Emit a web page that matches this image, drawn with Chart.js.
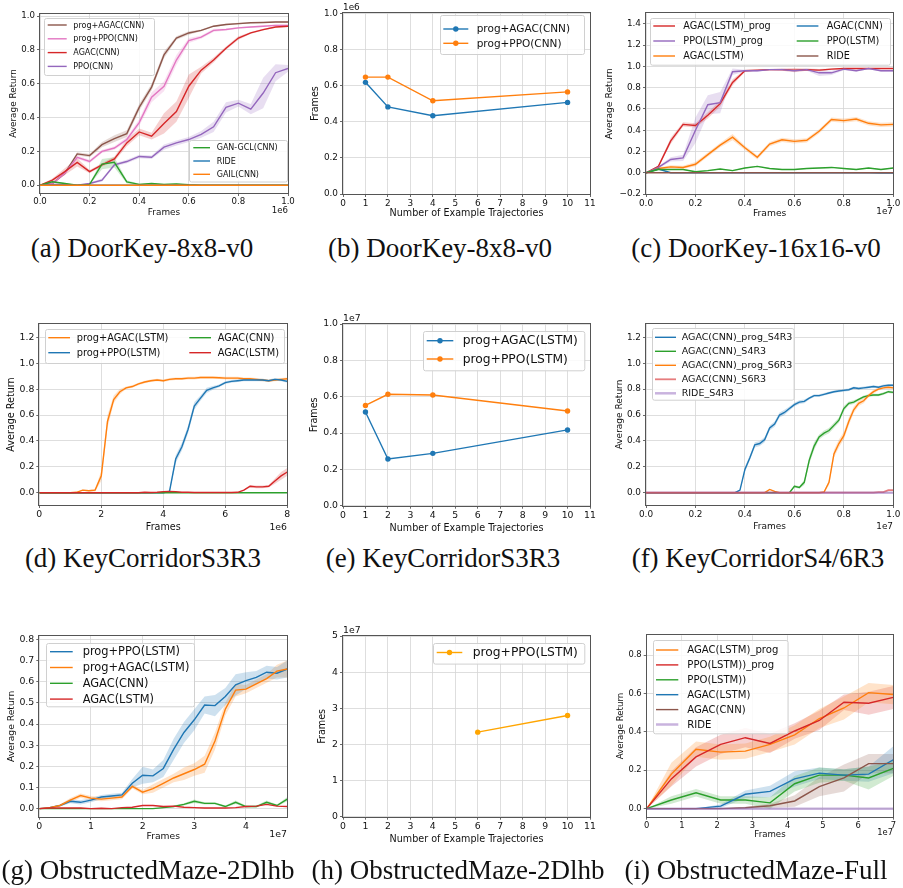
<!DOCTYPE html>
<html>
<head>
<meta charset="utf-8">
<script src="https://cdn.jsdelivr.net/npm/chart.js@4.4.0/dist/chart.umd.min.js"></script>
<style>
  body { margin: 0; background: #fff; width: 903px; height: 888px; position: relative; overflow: hidden; }
  canvas { position: absolute; }
  .cap { position: absolute; font-family: 'Liberation Serif', 'DejaVu Serif', serif; font-size: 27px; color: #111;
         white-space: nowrap; transform: translate(-50%, -50%); line-height: 1; }
</style>
</head>
<body>
<script>
// ---------- data ----------
// (a) DoorKey-8x8-v0, frames x1e6
const xA = [0, 0.05, 0.1, 0.15, 0.2, 0.25, 0.3, 0.35, 0.4, 0.45, 0.5, 0.55, 0.6, 0.65, 0.7, 0.75, 0.8, 0.85, 0.9, 0.95, 1.0];
const aProgAgac   = [0, 0.01, 0.07, 0.185, 0.175, 0.24, 0.275, 0.305, 0.46, 0.58, 0.77, 0.87, 0.9, 0.915, 0.94, 0.95, 0.955, 0.96, 0.962, 0.965, 0.965];
const aProgAgacSd = [0, 0.005, 0.01, 0.01, 0.01, 0.015, 0.02, 0.02, 0.02, 0.02, 0.02, 0.01, 0.01, 0.005, 0.005, 0.005, 0.005, 0.003, 0.003, 0.003, 0.003];
const aProgPpo    = [0, 0.01, 0.07, 0.165, 0.14, 0.2, 0.22, 0.27, 0.37, 0.52, 0.585, 0.74, 0.855, 0.875, 0.915, 0.92, 0.93, 0.935, 0.94, 0.945, 0.945];
const aProgPpoSd  = [0, 0.005, 0.01, 0.01, 0.01, 0.01, 0.01, 0.015, 0.02, 0.03, 0.03, 0.03, 0.015, 0.01, 0.01, 0.005, 0.005, 0.005, 0.005, 0.005, 0.005];
const aAgac       = [0, 0.03, 0.08, 0.135, 0.08, 0.12, 0.155, 0.25, 0.315, 0.29, 0.365, 0.435, 0.585, 0.68, 0.74, 0.81, 0.87, 0.9, 0.92, 0.935, 0.94];
const aAgacSd     = [0, 0.01, 0.02, 0.025, 0.01, 0.01, 0.015, 0.02, 0.02, 0.02, 0.06, 0.06, 0.07, 0.02, 0.015, 0.01, 0.01, 0.005, 0.005, 0.005, 0.005];
const aPpo        = [0, 0.005, 0.005, 0, 0.01, 0.03, 0.12, 0.14, 0.17, 0.165, 0.225, 0.25, 0.27, 0.3, 0.345, 0.46, 0.485, 0.45, 0.545, 0.665, 0.69];
const aPpoSd      = [0, 0.003, 0.003, 0, 0.005, 0.01, 0.01, 0.01, 0.01, 0.01, 0.015, 0.015, 0.015, 0.02, 0.03, 0.03, 0.02, 0.03, 0.09, 0.05, 0.02];
const aGan        = [0, 0.02, 0.01, 0, 0.005, 0.125, 0.135, 0.02, 0.005, 0.01, 0.005, 0.008, 0.003, 0, 0, 0, 0, 0, 0, 0, 0];
const aGanSd      = [0, 0.005, 0.005, 0, 0.003, 0.03, 0.03, 0.01, 0.003, 0.003, 0.003, 0.003, 0, 0, 0, 0, 0, 0, 0, 0, 0];
const aRide       = [0, 0, 0, 0, 0, 0, 0, 0, 0, 0, 0, 0, 0, 0, 0, 0, 0, 0, 0, 0, 0];
const aGail       = [0, 0, 0, 0, 0, 0, 0, 0, 0, 0, 0, 0, 0, 0, 0, 0, 0, 0, 0, 0, 0];
const yTicksA = [0, 0.2, 0.4, 0.6, 0.8, 1.0];
const xTicksA = [0, 0.2, 0.4, 0.6, 0.8, 1.0];

// (b) DoorKey-8x8-v0, frames x1e6 vs number of example trajectories
const xB = [1, 2, 4, 10];
const bProgAgac = [0.618, 0.482, 0.433, 0.507];
const bProgPpo  = [0.647, 0.647, 0.516, 0.565];
const yTicksB = [0, 0.2, 0.4, 0.6, 0.8, 1.0];
const xTicksB = [0, 1, 2, 3, 4, 5, 6, 7, 8, 9, 10, 11];

// (c) DoorKey-16x16-v0, frames x1e7
const xC = [0, 0.05, 0.1, 0.15, 0.2, 0.25, 0.3, 0.35, 0.4, 0.45, 0.5, 0.55, 0.6, 0.65, 0.7, 0.75, 0.8, 0.85, 0.9, 0.95, 1.0];
const cAgacLstmProg   = [0, 0.06, 0.3, 0.455, 0.445, 0.54, 0.65, 0.85, 0.96, 0.965, 0.97, 0.97, 0.965, 0.97, 0.965, 0.975, 0.98, 0.98, 0.98, 0.98, 0.98];
const cAgacLstmProgSd = [0, 0.01, 0.03, 0.02, 0.02, 0.03, 0.03, 0.03, 0.01, 0.005, 0.005, 0.01, 0.02, 0.01, 0.01, 0.005, 0.005, 0.005, 0.005, 0.005, 0.005];
const cPpoLstmProg    = [0, 0.05, 0.125, 0.14, 0.4, 0.64, 0.66, 0.95, 0.96, 0.96, 0.97, 0.97, 0.96, 0.97, 0.94, 0.94, 0.975, 0.96, 0.98, 0.96, 0.96];
const cPpoLstmProgSd  = [0, 0.01, 0.02, 0.03, 0.12, 0.09, 0.1, 0.03, 0.01, 0.01, 0.005, 0.01, 0.01, 0.01, 0.03, 0.02, 0.01, 0.01, 0.005, 0.01, 0.01];
const cAgacLstm       = [0, 0.04, 0.055, 0.05, 0.08, 0.17, 0.26, 0.335, 0.235, 0.145, 0.27, 0.31, 0.295, 0.305, 0.39, 0.5, 0.49, 0.505, 0.465, 0.45, 0.455];
const cAgacLstmSd     = [0, 0.01, 0.015, 0.015, 0.02, 0.02, 0.02, 0.03, 0.02, 0.02, 0.02, 0.02, 0.02, 0.02, 0.02, 0.02, 0.02, 0.02, 0.02, 0.02, 0.02];
const cAgacCnn        = [0, 0.035, 0, 0, 0, 0, 0, 0, 0, 0, 0, 0, 0, 0, 0, 0, 0, 0, 0, -0.003, -0.003];
const cPpoLstm        = [0, 0.03, 0.03, 0.03, 0.01, 0.02, 0.035, 0.02, 0.045, 0.06, 0.04, 0.03, 0.03, 0.04, 0.045, 0.05, 0.04, 0.03, 0.045, 0.03, 0.045];
const cPpoLstmSd      = [0, 0.005, 0.005, 0.005, 0.005, 0.005, 0.005, 0.005, 0.005, 0.005, 0.005, 0.005, 0.005, 0.005, 0.005, 0.005, 0.005, 0.005, 0.005, 0.005, 0.005];
const cRide           = [0, 0, 0, 0, 0, 0, 0, 0, 0, 0, 0, 0, 0, 0, 0, 0, 0, 0, 0, 0, 0];
const yTicksC = [-0.2, 0, 0.2, 0.4, 0.6, 0.8, 1.0, 1.2, 1.4];
const xTicksC = [0, 0.2, 0.4, 0.6, 0.8, 1.0];

// (d) KeyCorridorS3R3, frames x1e6
const xD = [0, 0.2, 0.4, 0.6, 0.8, 1.0, 1.2, 1.4, 1.6, 1.8, 2.0, 2.2, 2.4, 2.6, 2.8, 3.0, 3.2, 3.4, 3.6, 3.8, 4.0,
            4.2, 4.4, 4.6, 4.8, 5.0, 5.2, 5.4, 5.6, 5.8, 6.0, 6.2, 6.4, 6.6, 6.8, 7.0, 7.2, 7.4, 7.6, 7.8, 8.0];
const dProgAgac   = [0, 0, 0, 0, 0, 0, 0.003, 0.02, 0.015, 0.02, 0.13, 0.55, 0.72, 0.78, 0.81, 0.82, 0.84, 0.855, 0.865, 0.87, 0.865,
                     0.875, 0.88, 0.88, 0.885, 0.885, 0.89, 0.89, 0.89, 0.888, 0.885, 0.885, 0.885, 0.88, 0.88, 0.875, 0.87, 0.865, 0.87, 0.875, 0.88];
const dProgAgacSd = [0, 0, 0, 0, 0, 0, 0.003, 0.005, 0.005, 0.01, 0.04, 0.05, 0.03, 0.02, 0.01, 0.01, 0.01, 0.01, 0.01, 0.01, 0.01,
                     0.01, 0.01, 0.01, 0.01, 0.01, 0.01, 0.01, 0.01, 0.01, 0.01, 0.01, 0.01, 0.01, 0.01, 0.01, 0.01, 0.01, 0.01, 0.01, 0.01];
const dProgPpo    = [0, 0, 0, 0, 0, 0, 0, 0, 0, 0, 0, 0, 0, 0, 0, 0, 0, 0, 0, 0, 0,
                     0.01, 0.26, 0.355, 0.49, 0.67, 0.73, 0.79, 0.81, 0.825, 0.85, 0.86, 0.865, 0.87, 0.87, 0.87, 0.87, 0.865, 0.875, 0.87, 0.86];
const dProgPpoSd  = [0, 0, 0, 0, 0, 0, 0, 0, 0, 0, 0, 0, 0, 0, 0, 0, 0, 0, 0, 0, 0,
                     0.01, 0.03, 0.03, 0.03, 0.03, 0.02, 0.02, 0.015, 0.01, 0.01, 0.01, 0.01, 0.01, 0.01, 0.01, 0.01, 0.01, 0.01, 0.01, 0.01];
const dAgacCnn    = [0, 0, 0, 0, 0, 0, 0, 0, 0, 0, 0, 0, 0, 0, 0, 0, 0, 0, 0, 0, 0,
                     0, 0, 0, 0, 0, 0, 0, 0, 0, 0, 0, 0, 0, 0, 0, 0, 0, 0, 0, 0];
const dAgacLstm   = [0, 0, 0, 0, 0, 0, 0, 0, 0, 0, 0, 0, 0, 0, 0, 0, 0, 0.003, 0.002, 0.003, 0.008,
                     0.01, 0.008, 0.003, 0.003, 0.002, 0.002, 0.002, 0.002, 0.002, 0.002, 0.002, 0.003, 0.02, 0.05, 0.045, 0.045, 0.05, 0.09, 0.13, 0.16];
const dAgacLstmSd = [0, 0, 0, 0, 0, 0, 0, 0, 0, 0, 0, 0, 0, 0, 0, 0, 0, 0, 0, 0, 0,
                     0, 0, 0, 0, 0, 0, 0, 0, 0, 0, 0, 0.003, 0.005, 0.01, 0.01, 0.01, 0.01, 0.02, 0.03, 0.03];
const yTicksD = [0, 0.2, 0.4, 0.6, 0.8, 1.0, 1.2];
const xTicksD = [0, 2, 4, 6, 8];

// (e) KeyCorridorS3R3, frames x1e7 vs number of example trajectories
const xE = [1, 2, 4, 10];
const eProgAgac = [0.516, 0.257, 0.288, 0.417];
const eProgPpo  = [0.552, 0.613, 0.609, 0.521];
const yTicksE = [0, 0.2, 0.4, 0.6, 0.8, 1.0];
const xTicksE = [0, 1, 2, 3, 4, 5, 6, 7, 8, 9, 10, 11];

// (f) KeyCorridorS4/6R3, frames x1e7
const xF = [0, 0.02, 0.04, 0.06, 0.08, 0.1, 0.12, 0.14, 0.16, 0.18, 0.2, 0.22, 0.24, 0.26, 0.28, 0.3, 0.32, 0.34, 0.36, 0.38,
            0.4, 0.42, 0.44, 0.46, 0.48, 0.5, 0.52, 0.54, 0.56, 0.58, 0.6, 0.62, 0.64, 0.66, 0.68, 0.7, 0.72, 0.74, 0.76, 0.78,
            0.8, 0.82, 0.84, 0.86, 0.88, 0.9, 0.92, 0.94, 0.96, 0.98, 1.0];
const fS4Prog   = [0, 0, 0, 0, 0, 0, 0, 0, 0, 0, 0, 0, 0, 0, 0, 0, 0, 0, 0, 0.02,
                   0.18, 0.27, 0.37, 0.38, 0.41, 0.5, 0.53, 0.6, 0.62, 0.65, 0.68, 0.7, 0.705, 0.73, 0.75, 0.75, 0.76, 0.77, 0.78, 0.785,
                   0.79, 0.795, 0.81, 0.805, 0.81, 0.815, 0.82, 0.815, 0.825, 0.83, 0.83];
const fS4ProgSd = [0, 0, 0, 0, 0, 0, 0, 0, 0, 0, 0, 0, 0, 0, 0, 0, 0, 0, 0, 0.005,
                   0.02, 0.02, 0.02, 0.02, 0.02, 0.02, 0.02, 0.02, 0.02, 0.015, 0.015, 0.015, 0.015, 0.01, 0.01, 0.01, 0.01, 0.01, 0.01, 0.01,
                   0.01, 0.01, 0.01, 0.01, 0.01, 0.01, 0.01, 0.01, 0.01, 0.01, 0.01];
const fS4       = [0, 0, 0, 0, 0, 0, 0, 0, 0, 0, 0, 0, 0, 0, 0, 0, 0, 0, 0, 0,
                   0, 0, 0, 0, 0, 0, 0, 0, 0, 0, 0.05, 0.04, 0.08, 0.25, 0.36, 0.43, 0.46, 0.48, 0.52, 0.56,
                   0.65, 0.69, 0.7, 0.72, 0.74, 0.75, 0.755, 0.755, 0.765, 0.78, 0.775];
const fS4Sd     = [0, 0, 0, 0, 0, 0, 0, 0, 0, 0, 0, 0, 0, 0, 0, 0, 0, 0, 0, 0,
                   0, 0, 0, 0, 0, 0, 0, 0, 0, 0, 0.01, 0.01, 0.02, 0.03, 0.03, 0.02, 0.02, 0.02, 0.02, 0.02,
                   0.02, 0.015, 0.015, 0.01, 0.01, 0.01, 0.01, 0.01, 0.01, 0.01, 0.01];
const fS6Prog   = [0, 0, 0, 0, 0, 0, 0, 0, 0, 0, 0, 0, 0, 0, 0, 0, 0, 0, 0, 0,
                   0, 0, 0, 0, 0, 0.025, 0.01, 0, 0, 0, 0, 0, 0, 0, 0, 0, 0.005, 0.08, 0.3, 0.38,
                   0.44, 0.55, 0.64, 0.69, 0.71, 0.75, 0.78, 0.8, 0.81, 0.815, 0.81];
const fS6ProgSd = [0, 0, 0, 0, 0, 0, 0, 0, 0, 0, 0, 0, 0, 0, 0, 0, 0, 0, 0, 0,
                   0, 0, 0, 0, 0, 0.005, 0.005, 0, 0, 0, 0, 0, 0, 0, 0, 0, 0.005, 0.02, 0.03, 0.03,
                   0.03, 0.03, 0.025, 0.02, 0.02, 0.015, 0.015, 0.01, 0.01, 0.01, 0.01];
const fS6       = [0, 0, 0, 0, 0, 0, 0, 0, 0, 0, 0, 0, 0, 0, 0, 0, 0, 0, 0, 0,
                   0, 0, 0, 0, 0, 0, 0, 0, 0, 0, 0, 0, 0, 0, 0, 0, 0, 0, 0, 0,
                   0, 0, 0, 0, 0, 0, 0, 0.005, 0.005, 0.02, 0.02];
const fRide     = [0, 0, 0, 0, 0, 0, 0, 0, 0, 0, 0, 0, 0, 0, 0, 0, 0, 0, 0, 0,
                   0, 0, 0, 0, 0, 0, 0, 0, 0, 0, 0, 0, 0, 0, 0, 0, 0, 0, 0, 0,
                   0, 0, 0, 0, 0, 0, 0, 0, 0, 0, 0];
const yTicksF = [0, 0.2, 0.4, 0.6, 0.8, 1.0, 1.2];
const xTicksF = [0, 0.2, 0.4, 0.6, 0.8, 1.0];

// (g) ObstructedMaze-2Dlhb, frames x1e7
const xG = [0, 0.2, 0.4, 0.6, 0.8, 1.0, 1.2, 1.4, 1.6, 1.8, 2.0, 2.2, 2.4, 2.6, 2.8, 3.0, 3.2, 3.4, 3.6, 3.8, 4.0, 4.2, 4.4, 4.6, 4.8];
const gProgPpo    = [0, 0.005, 0.015, 0.035, 0.03, 0.04, 0.055, 0.06, 0.065, 0.12, 0.158, 0.155, 0.19, 0.28, 0.36, 0.42, 0.49, 0.487, 0.53, 0.585, 0.605, 0.62, 0.645, 0.64, 0.66];
const gProgPpoSd  = [0, 0.003, 0.005, 0.01, 0.01, 0.01, 0.01, 0.01, 0.01, 0.02, 0.04, 0.03, 0.04, 0.05, 0.05, 0.05, 0.04, 0.05, 0.04, 0.05, 0.04, 0.03, 0.03, 0.03, 0.04];
const gProgAgac   = [0, 0.005, 0.015, 0.04, 0.062, 0.05, 0.045, 0.05, 0.055, 0.105, 0.078, 0.095, 0.12, 0.145, 0.165, 0.185, 0.21, 0.32, 0.47, 0.56, 0.565, 0.59, 0.615, 0.65, 0.66];
const gProgAgacSd = [0, 0.003, 0.005, 0.01, 0.01, 0.01, 0.01, 0.01, 0.01, 0.01, 0.01, 0.02, 0.02, 0.02, 0.03, 0.03, 0.04, 0.04, 0.03, 0.03, 0.02, 0.02, 0.02, 0.03, 0.04];
const gAgacCnn    = [0, 0, 0, 0, 0, 0, 0, 0, 0, 0, 0, 0, 0.005, 0.01, 0.02, 0.035, 0.025, 0.025, 0.01, 0.03, 0.01, 0.01, 0.03, 0.015, 0.045];
const gAgacCnnSd  = [0, 0, 0, 0, 0, 0, 0, 0, 0, 0, 0, 0, 0.003, 0.005, 0.005, 0.008, 0.005, 0.005, 0.005, 0.008, 0.005, 0.005, 0.008, 0.005, 0.01];
const gAgacLstm   = [0, 0.003, 0.003, 0.003, 0.003, 0, 0.002, 0, 0.005, 0.007, 0.015, 0.015, 0.01, 0.012, 0.007, 0.005, 0.003, 0.003, 0.003, 0.005, 0.01, 0.012, 0.02, 0.012, 0.01];
const yTicksG = [0, 0.1, 0.2, 0.3, 0.4, 0.5, 0.6, 0.7, 0.8];
const xTicksG = [0, 1, 2, 3, 4];

// (h) ObstructedMaze-2Dlhb, frames x1e7 vs number of example trajectories
const xH = [6, 10];
const hProgPpo = [2.34, 2.80];
const yTicksH = [0, 1, 2, 3, 4, 5];
const xTicksH = [0, 1, 2, 3, 4, 5, 6, 7, 8, 9, 10, 11];

// (i) ObstructedMaze-Full, frames x1e7
const xI = [0, 0.7, 1.4, 2.1, 2.8, 3.5, 4.2, 4.9, 5.6, 6.3, 7.0];
const iAgacLstmProg   = [0, 0.18, 0.31, 0.295, 0.3, 0.335, 0.385, 0.47, 0.525, 0.605, 0.595];
const iAgacLstmProgSd = [0, 0.06, 0.04, 0.04, 0.04, 0.04, 0.05, 0.05, 0.06, 0.05, 0.05];
const iPpoLstmProg    = [0, 0.155, 0.27, 0.335, 0.37, 0.34, 0.405, 0.46, 0.555, 0.55, 0.58];
const iPpoLstmProgSd  = [0, 0.04, 0.05, 0.05, 0.05, 0.05, 0.04, 0.05, 0.04, 0.06, 0.06];
const iPpoLstm        = [0, 0.045, 0.083, 0.045, 0.045, 0.03, 0.13, 0.175, 0.175, 0.16, 0.21];
const iPpoLstmSd      = [0, 0.02, 0.02, 0.02, 0.02, 0.03, 0.04, 0.04, 0.03, 0.06, 0.04];
const iAgacLstm       = [0, 0, 0, 0.013, 0.075, 0.09, 0.155, 0.185, 0.175, 0.18, 0.255];
const iAgacLstmSd     = [0, 0, 0, 0.01, 0.02, 0.03, 0.04, 0.03, 0.03, 0.04, 0.07];
const iAgacCnn        = [0, 0, 0, 0, 0.005, 0.015, 0.04, 0.115, 0.16, 0.235, 0.235];
const iAgacCnnSd      = [0, 0, 0, 0, 0.005, 0.01, 0.03, 0.05, 0.07, 0.05, 0.05];
const iRide           = [0, 0, 0, 0, 0, 0, 0, 0, 0, 0, 0];
const yTicksI = [0, 0.2, 0.4, 0.6, 0.8];
const xTicksI = [0, 1, 2, 3, 4, 5, 6, 7];

// ---------- style ----------
const C = { blue: '#1f77b4', orange: '#ff7f0e', green: '#2ca02c', red: '#d62728',
            purple: '#9467bd', brown: '#8c564b', pink: '#e377c2', gold: '#ffa500' };
const FONT = 'DejaVu Sans';
const INK = '#111', GRID = '#d6d6d6', SPINE = '#555';

function rgba(hex, a) {
  const n = parseInt(hex.slice(1), 16);
  return `rgba(${n >> 16},${(n >> 8) & 255},${n & 255},${a})`;
}

function S(label, x, y, color, sd, extra) {
  return Object.assign({ label, x, y, color, sd }, extra || {});
}

function buildDatasets(list) {
  const ds = [];
  const n = list.length;
  list.forEach((s, k) => {
    if (s.sd) {
      ds.push({ data: s.x.map((v, i) => ({ x: v, y: s.y[i] - s.sd[i] })), borderWidth: 0, pointRadius: 0, fill: false, order: 100 + k });
      ds.push({ data: s.x.map((v, i) => ({ x: v, y: s.y[i] + s.sd[i] })), borderWidth: 0, pointRadius: 0, fill: '-1',
                backgroundColor: rgba(s.color, 0.22), order: 100 + k });
    }
    ds.push({
      label: s.label,
      data: s.x.map((v, i) => ({ x: v, y: s.y[i] })),
      borderColor: s.alpha ? rgba(s.color, s.alpha) : s.color,
      borderWidth: s.width || 1.4,
      pointRadius: s.marker ? 2.7 : 0,
      pointBackgroundColor: s.color,
      pointBorderWidth: 0,
      fill: false,
      tension: 0,
      order: n - k
    });
  });
  return ds;
}

function drawLegend(ctx, lg, series, bx, by) {
  const x = lg.x - bx, y = lg.y - by;
  ctx.fillStyle = 'rgba(255,255,255,0.85)';
  ctx.strokeStyle = '#d0d0d0';
  ctx.lineWidth = 1;
  ctx.beginPath();
  ctx.roundRect(Math.round(x) + 0.5, Math.round(y) + 0.5, lg.w, lg.h, 2);
  ctx.fill();
  ctx.stroke();
  const rows = Math.ceil(lg.items.length / lg.cols.length);
  ctx.font = `${lg.font}px ${FONT}`;
  ctx.textBaseline = 'middle';
  ctx.textAlign = 'left';
  lg.items.forEach((lab, k) => {
    const s = series.find(q => q.label === lab);
    const col = Math.floor(k / rows), row = k % rows;
    const cy = y + lg.row0 + row * lg.step;
    const hx = x + lg.cols[col];
    ctx.strokeStyle = s.alpha ? rgba(s.color, s.alpha) : s.color;
    ctx.lineWidth = s.width || 1.4;
    ctx.beginPath();
    ctx.moveTo(hx, cy);
    ctx.lineTo(hx + lg.hlen, cy);
    ctx.stroke();
    if (s.marker) {
      ctx.fillStyle = s.color;
      ctx.beginPath();
      ctx.arc(hx + lg.hlen / 2, cy, 2.7, 0, 2 * Math.PI);
      ctx.fill();
    }
    ctx.fillStyle = INK;
    ctx.fillText(lab, hx + lg.hlen + lg.tpad, cy + 0.5);
  });
}

function mplPlugin(p) {
  const [bx, by] = p.box;
  return {
    id: 'mpl' + p.id,
    afterDatasetsDraw(chart) {
      const ctx = chart.ctx, a = chart.chartArea;
      ctx.save();
      (p.legends || []).forEach(lg => drawLegend(ctx, lg, p.series, bx, by));
      ctx.strokeStyle = SPINE;
      ctx.lineWidth = 1;
      const l = Math.round(a.left) - 0.5, t = Math.round(a.top) - 0.5;
      ctx.strokeRect(l, t, Math.round(a.right) - Math.round(a.left) + 1, Math.round(a.bottom) - Math.round(a.top) + 1);
      if (p.off) {
        ctx.font = `${p.tf}px ${FONT}`;
        ctx.fillStyle = INK;
        ctx.textBaseline = 'middle';
        ctx.textAlign = p.off.align;
        ctx.fillText(p.off.text, p.off.x - bx, p.off.y - by);
      }
      ctx.restore();
    }
  };
}

const fmt = d => v => v.toFixed(d).replace('-', '\u2212');

function makePanel(p) {
  const [bx, by, bw, bh] = p.box;
  const [pl, pt, pr, pb] = p.plot;
  const cv = document.createElement('canvas');
  cv.width = bw; cv.height = bh;
  cv.style.left = bx + 'px'; cv.style.top = by + 'px';
  document.body.appendChild(cv);
  const lh = p.af * 1.2;
  new Chart(cv, {
    type: 'line',
    data: { datasets: buildDatasets(p.series) },
    options: {
      responsive: false, animation: false, devicePixelRatio: 1,
      layout: { padding: { left: 0, top: pt - by, right: bx + bw - pr, bottom: 0 } },
      plugins: { legend: { display: false }, tooltip: { enabled: false } },
      scales: {
        x: {
          type: 'linear', min: p.xr[0], max: p.xr[1],
          afterBuildTicks: s => { s.ticks = p.xt.map(v => ({ value: v })); },
          afterFit: s => { s.height = by + bh - pb; s.paddingLeft = 0; s.paddingRight = 0; },
          ticks: { callback: fmt(p.xd), font: { family: FONT, size: p.tf }, color: INK, padding: 1, maxRotation: 0, autoSkip: false },
          grid: { color: GRID, tickColor: '#444', tickLength: 3, lineWidth: 0.8 },
          border: { display: false },
          title: { display: true, text: p.xtitle, font: { family: FONT, size: p.af }, color: INK,
                   padding: { top: 0, bottom: by + bh - p.xty - lh / 2 } }
        },
        y: {
          type: 'linear', min: p.yr[0], max: p.yr[1],
          afterBuildTicks: s => { s.ticks = p.yt.map(v => ({ value: v })); },
          afterFit: s => { s.width = pl - bx; s.paddingTop = 0; s.paddingBottom = 0; },
          ticks: { callback: fmt(p.yd), font: { family: FONT, size: p.tf }, color: INK, padding: 2, autoSkip: false },
          grid: { color: GRID, tickColor: '#444', tickLength: 3, lineWidth: 0.8 },
          border: { display: false },
          title: { display: true, text: p.ytitle, font: { family: FONT, size: p.af }, color: INK,
                   padding: { top: p.ytx - bx - lh / 2, bottom: 0 } }
        }
      }
    },
    plugins: [mplPlugin(p)]
  });
}

// ---------- panels ----------
const panels = [
  { id: 'a', box: [0, 0, 300, 232], plot: [40, 14, 288, 193], xr: [0, 1], yr: [-0.046, 1.012],
    xt: xTicksA, yt: yTicksA, xd: 1, yd: 1, tf: 8.6, af: 8.9,
    xtitle: 'Frames', ytitle: 'Average Return', xty: 213, ytx: 14,
    off: { text: '1e6', x: 288, y: 211, align: 'right' },
    series: [
      S('prog+AGAC(CNN)', xA, aProgAgac, C.brown, aProgAgacSd),
      S('prog+PPO(CNN)', xA, aProgPpo, C.pink, aProgPpoSd),
      S('AGAC(CNN)', xA, aAgac, C.red, aAgacSd),
      S('PPO(CNN)', xA, aPpo, C.purple, aPpoSd),
      S('GAN-GCL(CNN)', xA, aGan, C.green, aGanSd),
      S('RIDE', xA, aRide, C.blue),
      S('GAIL(CNN)', xA, aGail, C.orange)
    ],
    legends: [
      { x: 44.3, y: 18.3, w: 110, h: 57, font: 8, row0: 6.7, step: 13.8, cols: [3.4], hlen: 19, tpad: 6.6,
        items: ['prog+AGAC(CNN)', 'prog+PPO(CNN)', 'AGAC(CNN)', 'PPO(CNN)'] },
      { x: 188.5, y: 140, w: 98, h: 41.5, font: 8, row0: 7.7, step: 13.3, cols: [4.8], hlen: 16.7, tpad: 6.7,
        items: ['GAN-GCL(CNN)', 'RIDE', 'GAIL(CNN)'] }
    ] },
  { id: 'b', box: [300, 0, 300, 232], plot: [343, 13.3, 590, 194], xr: [0, 11], yr: [0, 1],
    xt: xTicksB, yt: yTicksB, xd: 0, yd: 1, tf: 8.9, af: 9.6,
    xtitle: 'Number of Example Trajectories', ytitle: 'Frames', xty: 213.3, ytx: 315,
    off: { text: '1e6', x: 343, y: 8, align: 'left' },
    series: [
      S('prog+AGAC(CNN)', xB, bProgAgac, C.blue, null, { marker: true }),
      S('prog+PPO(CNN)', xB, bProgPpo, C.orange, null, { marker: true })
    ],
    legends: [
      { x: 440, y: 15, w: 144, h: 39, font: 10.5, row0: 14, step: 14.3, cols: [3.3], hlen: 25, tpad: 8.4,
        items: ['prog+AGAC(CNN)', 'prog+PPO(CNN)'] }
    ] },
  { id: 'c', box: [600, 0, 303, 232], plot: [646, 13.3, 893.3, 194], xr: [0, 1], yr: [-0.2, 1.5],
    xt: xTicksC, yt: yTicksC, xd: 1, yd: 1, tf: 8.9, af: 9.2,
    xtitle: 'Frames', ytitle: 'Average Return', xty: 214, ytx: 610,
    off: { text: '1e7', x: 893, y: 212, align: 'right' },
    series: [
      S('AGAC(LSTM)_prog', xC, cAgacLstmProg, C.red, cAgacLstmProgSd),
      S('PPO(LSTM)_prog', xC, cPpoLstmProg, C.purple, cPpoLstmProgSd),
      S('AGAC(LSTM)', xC, cAgacLstm, C.orange, cAgacLstmSd),
      S('AGAC(CNN)', xC, cAgacCnn, C.blue),
      S('PPO(LSTM)', xC, cPpoLstm, C.green, cPpoLstmSd),
      S('RIDE', xC, cRide, C.brown)
    ],
    legends: [
      { x: 650, y: 18.3, w: 240, h: 46.7, font: 9.7, row0: 7.7, step: 15, cols: [3.3, 146.7], hlen: 21.7, tpad: 8.3,
        items: ['AGAC(LSTM)_prog', 'PPO(LSTM)_prog', 'AGAC(LSTM)', 'AGAC(CNN)', 'PPO(LSTM)', 'RIDE'] }
    ] },
  { id: 'd', box: [0, 306, 300, 232], plot: [39.3, 324, 287.3, 505], xr: [0, 8], yr: [-0.095, 1.303],
    xt: xTicksD, yt: yTicksD, xd: 0, yd: 1, tf: 9.3, af: 9.6,
    xtitle: 'Frames', ytitle: 'Average Return', xty: 527.7, ytx: 11,
    off: { text: '1e6', x: 287, y: 527.5, align: 'right' },
    series: [
      S('prog+AGAC(LSTM)', xD, dProgAgac, C.orange, dProgAgacSd),
      S('prog+PPO(LSTM)', xD, dProgPpo, C.blue, dProgPpoSd),
      S('AGAC(CNN)', xD, dAgacCnn, C.green),
      S('AGAC(LSTM)', xD, dAgacLstm, C.red, dAgacLstmSd)
    ],
    legends: [
      { x: 45, y: 329.3, w: 239, h: 34, font: 9.8, row0: 8.4, step: 15, cols: [3.3, 144.3], hlen: 21.7, tpad: 6.7,
        items: ['prog+AGAC(LSTM)', 'prog+PPO(LSTM)', 'AGAC(CNN)', 'AGAC(LSTM)'] }
    ] },
  { id: 'e', box: [300, 306, 300, 232], plot: [343, 324, 590, 505.7], xr: [0, 11], yr: [0, 1],
    xt: xTicksE, yt: yTicksE, xd: 0, yd: 1, tf: 9.3, af: 9.6,
    xtitle: 'Number of Example Trajectories', ytitle: 'Frames', xty: 528, ytx: 314,
    off: { text: '1e7', x: 343, y: 319, align: 'left' },
    series: [
      S('prog+AGAC(LSTM)', xE, eProgAgac, C.blue, null, { marker: true }),
      S('prog+PPO(LSTM)', xE, eProgPpo, C.orange, null, { marker: true })
    ],
    legends: [
      { x: 422.7, y: 330.7, w: 161.3, h: 39.3, font: 12.3, row0: 10, step: 18.3, cols: [4], hlen: 26.6, tpad: 9.4,
        items: ['prog+AGAC(LSTM)', 'prog+PPO(LSTM)'] }
    ] },
  { id: 'f', box: [600, 306, 303, 232], plot: [646, 324, 893.3, 505], xr: [0, 1], yr: [-0.095, 1.303],
    xt: xTicksF, yt: yTicksF, xd: 1, yd: 1, tf: 8.9, af: 9,
    xtitle: 'Frames', ytitle: 'Average Return', xty: 526.7, ytx: 620,
    off: { text: '1e7', x: 893, y: 526.7, align: 'right' },
    series: [
      S('AGAC(CNN)_prog_S4R3', xF, fS4Prog, C.blue, fS4ProgSd),
      S('AGAC(CNN)_S4R3', xF, fS4, C.green, fS4Sd),
      S('AGAC(CNN)_prog_S6R3', xF, fS6Prog, C.orange, fS6ProgSd),
      S('AGAC(CNN)_S6R3', xF, fS6, C.red, null, { alpha: 0.6, width: 1.8 }),
      S('RIDE_S4R3', xF, fRide, C.purple, null, { alpha: 0.5, width: 2.5 })
    ],
    legends: [
      { x: 651.7, y: 328.3, w: 141.6, h: 71.7, font: 9.5, row0: 9, step: 14, cols: [3.3], hlen: 21, tpad: 5.7,
        items: ['AGAC(CNN)_prog_S4R3', 'AGAC(CNN)_S4R3', 'AGAC(CNN)_prog_S6R3', 'AGAC(CNN)_S6R3', 'RIDE_S4R3'] }
    ] },
  { id: 'g', box: [0, 616, 300, 240], plot: [39.3, 636, 287.3, 816.7], xr: [0, 4.8], yr: [-0.038, 0.816],
    xt: xTicksG, yt: yTicksG, xd: 0, yd: 1, tf: 9.4, af: 9.2,
    xtitle: 'Frames', ytitle: 'Average Return', xty: 836.7, ytx: 11.5,
    off: { text: '1e7', x: 287, y: 835, align: 'right' },
    series: [
      S('prog+PPO(LSTM)', xG, gProgPpo, C.blue, gProgPpoSd),
      S('prog+AGAC(LSTM)', xG, gProgAgac, C.orange, gProgAgacSd),
      S('AGAC(CNN)', xG, gAgacCnn, C.green, gAgacCnnSd),
      S('AGAC(LSTM)', xG, gAgacLstm, C.red)
    ],
    legends: [
      { x: 46, y: 642.7, w: 148, h: 63.3, font: 11.4, row0: 9, step: 15.8, cols: [4], hlen: 22.7, tpad: 10,
        items: ['prog+PPO(LSTM)', 'prog+AGAC(LSTM)', 'AGAC(CNN)', 'AGAC(LSTM)'] }
    ] },
  { id: 'h', box: [300, 616, 300, 240], plot: [343, 636, 590, 816.7], xr: [0, 11], yr: [0, 5],
    xt: xTicksH, yt: yTicksH, xd: 0, yd: 0, tf: 9.3, af: 9.6,
    xtitle: 'Number of Example Trajectories', ytitle: 'Frames', xty: 839, ytx: 322.7,
    off: { text: '1e7', x: 343, y: 630.7, align: 'left' },
    series: [
      S('prog+PPO(LSTM)', xH, hProgPpo, C.gold, null, { marker: true })
    ],
    legends: [
      { x: 432.7, y: 642.7, w: 151.3, h: 20.6, font: 12.3, row0: 9.8, step: 0, cols: [4], hlen: 25.6, tpad: 10.4,
        items: ['prog+PPO(LSTM)'] }
    ] },
  { id: 'i', box: [600, 616, 303, 240], plot: [646.7, 635.3, 893.3, 816.7], xr: [0, 7], yr: [-0.042, 0.904],
    xt: xTicksI, yt: yTicksI, xd: 0, yd: 1, tf: 8.4, af: 8.6,
    xtitle: 'Frames', ytitle: 'Average Return', xty: 835, ytx: 620.7,
    off: { text: '1e7', x: 893, y: 833.3, align: 'right' },
    series: [
      S('AGAC(LSTM)_prog', xI, iAgacLstmProg, C.orange, iAgacLstmProgSd),
      S('PPO(LSTM))_prog', xI, iPpoLstmProg, C.red, iPpoLstmProgSd),
      S('PPO(LSTM))', xI, iPpoLstm, C.green, iPpoLstmSd),
      S('AGAC(LSTM)', xI, iAgacLstm, C.blue, iAgacLstmSd),
      S('AGAC(CNN)', xI, iAgacCnn, C.brown, iAgacCnnSd),
      S('RIDE', xI, iRide, C.purple, null, { alpha: 0.5, width: 2.5 })
    ],
    legends: [
      { x: 652.7, y: 640, w: 134.6, h: 93.3, font: 10.1, row0: 10, step: 14.9, cols: [3.3], hlen: 22.3, tpad: 9,
        items: ['AGAC(LSTM)_prog', 'PPO(LSTM))_prog', 'PPO(LSTM))', 'AGAC(LSTM)', 'AGAC(CNN)', 'RIDE'] }
    ] }
];

panels.forEach(makePanel);

// ---------- captions ----------
const captions = [
  ['(a) DoorKey-8x8-v0', 142, 248], ['(b) DoorKey-8x8-v0', 440, 248], ['(c) DoorKey-16x16-v0', 756, 248],
  ['(d) KeyCorridorS3R3', 143, 558], ['(e) KeyCorridorS3R3', 443, 558], ['(f) KeyCorridorS4/6R3', 758, 558],
  ['(g) ObstructedMaze-2Dlhb', 148, 870], ['(h) ObstructedMaze-2Dlhb', 458, 870], ['(i) ObstructedMaze-Full', 756, 870]
];
captions.forEach(([t, x, y]) => {
  const d = document.createElement('div');
  d.className = 'cap';
  d.textContent = t;
  d.style.left = x + 'px';
  d.style.top = y + 'px';
  document.body.appendChild(d);
});
</script>
</body>
</html>
